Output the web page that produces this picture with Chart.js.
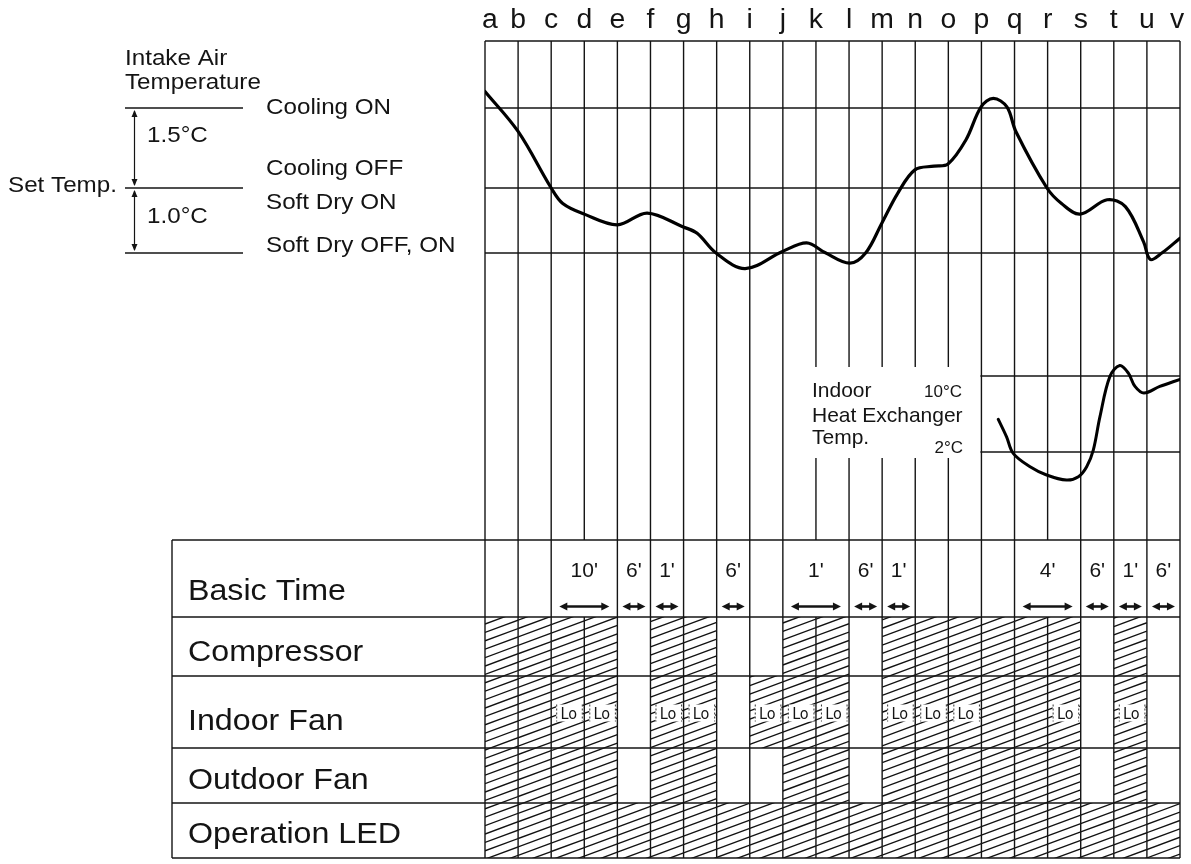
<!DOCTYPE html>
<html>
<head>
<meta charset="utf-8">
<script src="https://cdn.jsdelivr.net/npm/chart.js@4.4.1/dist/chart.umd.min.js"></script>
<style>
  html, body { margin: 0; padding: 0; background: #ffffff; }
  #wrap { width: 1191px; height: 864px; position: relative; }
</style>
</head>
<body>
<div id="wrap"><canvas id="c" width="1191" height="864"></canvas></div>
<script>
// ---------------- DATA ----------------
const lineLabels = ['a','b','c','d','e','f','g','h','i','j','k','l','m','n','o','p','q','r','s','t','u','v'];

// Intake air temperature (°C relative to set temp, schematic), x = position between lines a(0)..v(21)
const intakeX = [0, 1, 2, 2.35, 3, 4, 4.9, 5.99, 6.41, 6.98, 7.86, 8.99, 9.72, 10.27, 11.02, 11.5, 11.99, 12.47, 12.99, 13.57, 13.99, 14.53, 14.99, 15.36, 15.77, 16.04, 16.98, 17.42, 17.98, 18.8, 19.35, 19.9, 20.1, 20.45, 21];
const intakeY = [1.81, 1.06, 0.0, -0.29, -0.49, -0.69, -0.47, -0.73, -0.85, -1.22, -1.51, -1.19, -1.03, -1.21, -1.41, -1.22, -0.66, -0.10, 0.34, 0.41, 0.45, 0.90, 1.52, 1.68, 1.52, 1.06, 0.0, -0.29, -0.49, -0.22, -0.35, -1.01, -1.34, -1.22, -0.94];

// Indoor heat exchanger temperature (°C)
const hxX = [15.51, 15.76, 15.96, 16.47, 16.97, 17.57, 17.93, 18.18, 18.38, 18.58, 18.88, 19.18, 19.44, 19.64, 19.91, 20.39, 21];
const hxY = [5.44, 3.6, 1.86, 0.45, -0.42, -0.95, -0.6, 0.45, 2.2, 5.7, 9.93, 11.1, 10.3, 8.9, 8.2, 8.9, 9.65];

// Intake threshold levels (schematic positions as drawn)
const levelNames  = ['coolingOn', 'setTemp', 'softDryOff'];
const levelValues = [1.5, 0, -1.22];
const hxLevels = [10, 2];
const hxLevelLabels = ['10°C', '2°C'];

// Table rows
const rowLabels = ['Basic Time', 'Compressor', 'Indoor Fan', 'Outdoor Fan', 'Operation LED'];
// states per interval a-b ... u-v (21 intervals)
const compressorOn = [1,1,1,1,0,1,1,0,0,1,1,0,1,1,1,1,1,1,0,1,0];
const indoorFanOn  = [1,1,1,1,0,1,1,0,1,1,1,0,1,1,1,1,1,1,0,1,0];
const indoorFanLo  = [0,0,1,1,0,1,1,0,1,1,1,0,1,1,1,0,0,1,0,1,0];
const outdoorFanOn = [1,1,1,1,0,1,1,0,0,1,1,0,1,1,1,1,1,1,0,1,0];
const ledOn        = [1,1,1,1,1,1,1,1,1,1,1,1,1,1,1,1,1,1,1,1,1];

// Basic time spans
const basicFrom   = [2, 4, 5, 7, 9, 11, 12, 16, 18, 19, 20];
const basicTo     = [4, 5, 6, 8, 11, 12, 13, 18, 19, 20, 21];
const basicLabels = ["10'", "6'", "1'", "6'", "1'", "6'", "1'", "4'", "6'", "1'", "6'"];

// ---------------- LAYOUT / STYLE ----------------
const W = 1191, H = 864;
const PLOT = { left: 485, right: 1180, top: 41, bottom: 858 };
const TABLE = { left: 172, top: 540, rowH: [77, 59, 72, 55, 55] };
const FONT = '"Liberation Sans", Arial, Helvetica, sans-serif';
const INK = '#141414';

function axisRange(v1, p1, v2, p2) {
  const k = (p2 - p1) / (v1 - v2);
  return { max: v1 + (p1 - PLOT.top) / k, min: v1 - (PLOT.bottom - p1) / k };
}
const rT = axisRange(1.5, 108, 0, 188);
const rH = axisRange(10, 376, 2, 452);

function txt(ctx, s, x, y, size, opts) {
  opts = opts || {};
  ctx.save();
  ctx.font = (opts.weight || '') + ' ' + size + 'px ' + (opts.font || FONT);
  ctx.fillStyle = INK;
  ctx.textBaseline = 'alphabetic';
  ctx.textAlign = opts.align || 'left';
  ctx.translate(x, y);
  ctx.scale(opts.sx || 1, 1);
  ctx.fillText(s, 0, 0);
  ctx.restore();
}
function seg(ctx, x1, y1, x2, y2) {
  ctx.beginPath(); ctx.moveTo(x1, y1); ctx.lineTo(x2, y2); ctx.stroke();
}
function arrowHead(ctx, x, y, dx, dy, len, half) {
  const px = -dy, py = dx;
  ctx.beginPath();
  ctx.moveTo(x, y);
  ctx.lineTo(x - dx * len + px * half, y - dy * len + py * half);
  ctx.lineTo(x - dx * len - px * half, y - dy * len - py * half);
  ctx.closePath();
  ctx.fill();
}
function hatch(ctx, x1, x2, y1, y2) {
  const slope = 0.37, sp = 8.4, X0 = PLOT.left, Y0 = TABLE.top;
  ctx.save();
  ctx.beginPath(); ctx.rect(x1, y1, x2 - x1, y2 - y1); ctx.clip();
  ctx.strokeStyle = '#111'; ctx.lineWidth = 1.35;
  const nMin = Math.floor((y1 - Y0 + slope * (x1 - X0)) / sp) - 1;
  const nMax = Math.ceil((y2 - Y0 + slope * (x2 - X0)) / sp) + 1;
  for (let n = nMin; n <= nMax; n++) {
    seg(ctx, x1, Y0 + n * sp - slope * (x1 - X0), x2, Y0 + n * sp - slope * (x2 - X0));
  }
  ctx.restore();
}

const diagram = {
  id: 'diagram',
  beforeDatasetsDraw(chart) {
    const ctx = chart.ctx;
    const xs = chart.scales.x, yT = chart.scales.yT, yH = chart.scales.yH;
    const X = i => xs.getPixelForValue(i);
    const edges = [TABLE.top];
    TABLE.rowH.forEach(h => edges.push(edges[edges.length - 1] + h));

    ctx.save();
    // ---- hatched cells ----
    const rowStates = [null, compressorOn, indoorFanOn, outdoorFanOn, ledOn];
    rowStates.forEach((st, r) => {
      if (!st) return;
      st.forEach((on, c) => { if (on) hatch(ctx, X(c), X(c + 1), edges[r], edges[r + 1]); });
    });
    // ---- Lo boxes ----
    indoorFanLo.forEach((lo, c) => {
      if (!lo) return;
      const xl = X(c) + 5, xr = X(c + 1) - 1.5, ym = (edges[2] + edges[3]) / 2 + 1;
      ctx.fillStyle = '#fff';
      ctx.fillRect(xl, ym - 8.5, xr - xl, 17);
      ctx.save();
      ctx.strokeStyle = '#333'; ctx.lineWidth = 1; ctx.setLineDash([2, 2]);
      seg(ctx, xl + 0.5, ym - 8.5, xl + 0.5, ym + 8.5);
      seg(ctx, xr - 0.5, ym - 8.5, xr - 0.5, ym + 8.5);
      ctx.restore();
      txt(ctx, 'Lo', (X(c) + X(c + 1)) / 2 + 1, ym + 6, 16, { align: 'center', font: '"Liberation Sans Narrow", "DejaVu Sans Condensed", sans-serif' });
    });

    // ---- grid lines ----
    ctx.strokeStyle = INK; ctx.lineWidth = 1.4;
    const omit = new Set();
    basicFrom.forEach((f, k) => { for (let j = f + 1; j < basicTo[k]; j++) omit.add(j); });
    for (let i = 0; i <= 21; i++) {
      const px = X(i);
      seg(ctx, px, PLOT.top, px, TABLE.top);
      if (!omit.has(i)) seg(ctx, px, edges[0], px, edges[1]);
      seg(ctx, px, edges[1], px, PLOT.bottom);
    }
    seg(ctx, PLOT.left, PLOT.top, PLOT.right, PLOT.top);
    levelValues.forEach(v => {
      const py = yT.getPixelForValue(v);
      seg(ctx, PLOT.left, py, PLOT.right, py);
      seg(ctx, 125, py, 243, py);
    });
    edges.forEach(e => seg(ctx, TABLE.left, e, PLOT.right, e));
    seg(ctx, TABLE.left, TABLE.top, TABLE.left, PLOT.bottom);

    // ---- heat exchanger label zone (break lines) ----
    ctx.fillStyle = '#fff';
    ctx.fillRect(X(9.7), 367, X(14.65) - X(9.7), 91);
    hxLevels.forEach(v => {
      const py = yH.getPixelForValue(v);
      seg(ctx, X(15) - 1, py, PLOT.right, py);
    });
    txt(ctx, 'Indoor', 812, 397, 21);
    txt(ctx, 'Heat Exchanger', 812, 421.5, 21);
    txt(ctx, 'Temp.', 812, 443.5, 21);
    txt(ctx, hxLevelLabels[0], 962, 397, 17, { align: 'right' });
    txt(ctx, hxLevelLabels[1], 963, 453, 17, { align: 'right' });

    // ---- left annotations ----
    const yOn = yT.getPixelForValue(levelValues[0]);
    const ySet = yT.getPixelForValue(levelValues[1]);
    const yOff = yT.getPixelForValue(levelValues[2]);
    ctx.fillStyle = INK; ctx.lineWidth = 1.2;
    seg(ctx, 134.5, yOn + 3, 134.5, ySet - 3);
    arrowHead(ctx, 134.5, yOn + 2, 0, -1, 7, 3);
    arrowHead(ctx, 134.5, ySet - 2, 0, 1, 7, 3);
    seg(ctx, 134.5, ySet + 3, 134.5, yOff - 3);
    arrowHead(ctx, 134.5, ySet + 2, 0, -1, 7, 3);
    arrowHead(ctx, 134.5, yOff - 2, 0, 1, 7, 3);
    const SX = 1.1;
    txt(ctx, 'Intake Air', 125, 65, 22, { sx: SX });
    txt(ctx, 'Temperature', 125, 89, 22, { sx: SX });
    txt(ctx, 'Cooling ON', 266, yOn + 6, 22, { sx: SX });
    txt(ctx, '1.5°C', 147, 142, 22, { sx: SX });
    txt(ctx, 'Cooling OFF', 266, ySet - 13, 22, { sx: SX });
    txt(ctx, 'Set Temp.', 8, ySet + 4, 22, { sx: SX });
    txt(ctx, 'Soft Dry ON', 266, ySet + 21, 22, { sx: SX });
    txt(ctx, '1.0°C', 147, 223, 22, { sx: SX });
    txt(ctx, 'Soft Dry OFF, ON', 266, yOff - 1, 22, { sx: SX });

    // ---- column letters ----
    lineLabels.forEach((l, i) => {
      let cx = X(i);
      if (i === 0) cx += 5;
      if (i === lineLabels.length - 1) cx -= 3;
      txt(ctx, l, cx, 28, 27, { align: 'center', sx: 1.05 });
    });

    // ---- table labels ----
    const base = [600, 661, 730, 789, 843];
    rowLabels.forEach((s, r) => txt(ctx, s, 188, base[r], 29, { sx: 1.11 }));

    // ---- basic time ----
    ctx.lineWidth = 2.6; ctx.strokeStyle = INK; ctx.fillStyle = INK;
    basicLabels.forEach((s, k) => {
      const cx = (X(basicFrom[k]) + X(basicTo[k])) / 2;
      const two = basicTo[k] - basicFrom[k] > 1;
      const half = two ? 25 : 11.5;
      txt(ctx, s, cx, 577, 21, { align: 'center' });
      const ay = 606.5;
      seg(ctx, cx - half + 5, ay, cx + half - 5, ay);
      ctx.fillStyle = INK;
      arrowHead(ctx, cx - half, ay, -1, 0, 8, 4);
      arrowHead(ctx, cx + half, ay, 1, 0, 8, 4);
    });
    ctx.restore();
  }
};

const toPts = (xa, ya) => xa.map((x, i) => ({ x: x, y: ya[i] }));

new Chart(document.getElementById('c'), {
  type: 'line',
  data: {
    datasets: [
      { label: 'Intake Air Temperature', data: toPts(intakeX, intakeY), yAxisID: 'yT',
        borderColor: '#000', borderWidth: 3.2, pointRadius: 0, tension: 0.35, fill: false, borderCapStyle: 'round' },
      { label: 'Indoor Heat Exchanger Temp.', data: toPts(hxX, hxY), yAxisID: 'yH',
        borderColor: '#000', borderWidth: 3, pointRadius: 0, tension: 0.35, fill: false, borderCapStyle: 'round' }
    ]
  },
  options: {
    responsive: false,
    animation: false,
    layout: { padding: { left: PLOT.left, right: W - PLOT.right, top: PLOT.top, bottom: H - PLOT.bottom } },
    plugins: { legend: { display: false }, tooltip: { enabled: false } },
    scales: {
      x: { type: 'linear', min: 0, max: 21, display: false },
      yT: { type: 'linear', min: rT.min, max: rT.max, display: false },
      yH: { type: 'linear', min: rH.min, max: rH.max, display: false }
    }
  },
  plugins: [diagram]
});
</script>
</body>
</html>
